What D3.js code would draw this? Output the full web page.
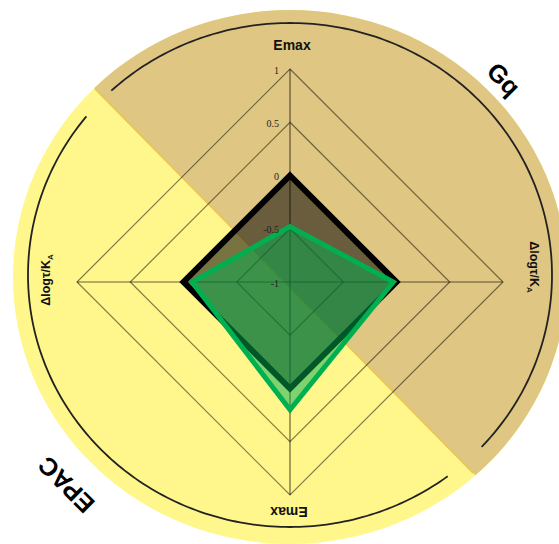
<!DOCTYPE html>
<html>
<head>
<meta charset="utf-8">
<script src="https://cdn.jsdelivr.net/npm/d3@7"></script>
<style>
  body { margin: 0; background: #fff; }
</style>
</head>
<body>
<div id="chart"></div>
<script>
// --- data ---
// axes go clockwise from the top: Gq owns top/right, EPAC owns bottom/left
const axisNames = ["Emax", "Δlogτ/K", "Emax", "Δlogτ/K"];
const axisSubs = ["", "A", "", "A"];
const tickValues = [1, 0.5, 0, -0.5, -1];
const ringValues = [1, 0.5, 0, -0.5];
const blackSeries = [0, 0, 0, 0];
const greenSeries = [-0.48, -0.03, 0.2, -0.08];
const pathways = ["Gq", "EPAC"];

const width = 559, height = 544;

const svg = d3.select("div#chart")
    .append("svg")
    .attr("width", width)
    .attr("height", height)
    .style("background-color", "#fff");

// radar centre and radius (value -1 sits at the centre)
const cx = 290, cy = 282, R = 213;
const rScale = d3.scaleLinear().domain([-1, 1]).range([0, R]);
const angle = i => i * Math.PI / 2;

// background disc (slightly oval in the picture)
const disc = { cx: 290, cy: 277, rx: 277, ry: 267 };

const defs = svg.append("defs");
// upper-right half for Gq, split along the diagonal
defs.append("clipPath").attr("id", "gqHalf")
    .append("polygon")
    .attr("points", [[95 - 400, 89 - 406], [473 + 400, 473 + 406], [1200, -1200]].join(" "));

svg.append("ellipse")
    .attr("cx", disc.cx).attr("cy", disc.cy)
    .attr("rx", disc.rx).attr("ry", disc.ry)
    .attr("fill", "#fff68c");

svg.append("ellipse")
    .attr("clip-path", "url(#gqHalf)")
    .attr("cx", disc.cx).attr("cy", disc.cy)
    .attr("rx", disc.rx).attr("ry", disc.ry)
    .attr("fill", "#dfc682");

// thin golden seam between the halves
svg.append("line")
    .attr("x1", 95).attr("y1", 89)
    .attr("x2", 473).attr("y2", 473)
    .attr("stroke", "#e9c64e")
    .attr("stroke-width", 1.5);

// outer black arcs, one per half
const arcEll = { cx: 290, cy: 275, rx: 262, ry: 252 };
const arcLine = d3.line();
function ellArc(a0, a1) {
    return arcLine(d3.range(a0, a1 + 0.5, 1).map(function (deg) {
        const a = deg * Math.PI / 180;
        return [arcEll.cx + arcEll.rx * Math.sin(a), arcEll.cy - arcEll.ry * Math.cos(a)];
    }));
}
[[-43, 133], [143, 309]].forEach(function (span) {
    svg.append("path")
        .attr("d", ellArc(span[0], span[1]))
        .attr("fill", "none")
        .attr("stroke", "#222")
        .attr("stroke-width", 1.8);
});

const g = svg.append("g").attr("transform", `translate(${cx},${cy})`);

// diamond grid rings
const radial = d3.lineRadial()
    .angle((d, i) => angle(i))
    .curve(d3.curveLinearClosed);

g.selectAll("path.ring")
    .data(ringValues)
    .join("path")
    .attr("class", "ring")
    .attr("d", v => radial.radius(() => rScale(v))(axisNames))
    .attr("fill", "none")
    .attr("stroke", "#000")
    .attr("stroke-opacity", 0.5)
    .attr("stroke-width", 1.2);

// spokes
g.selectAll("line.spoke")
    .data(axisNames)
    .join("line")
    .attr("class", "spoke")
    .attr("x1", 0).attr("y1", 0)
    .attr("x2", (d, i) => R * Math.sin(angle(i)))
    .attr("y2", (d, i) => -R * Math.cos(angle(i)))
    .attr("stroke", "#000")
    .attr("stroke-opacity", 0.6)
    .attr("stroke-width", 1.2);

// series polygons, black first then green on top
const seriesLine = d3.lineRadial()
    .angle((d, i) => angle(i))
    .radius(d => rScale(d))
    .curve(d3.curveLinearClosed);

g.append("path")
    .datum(blackSeries)
    .attr("d", seriesLine)
    .attr("fill", "#000")
    .attr("fill-opacity", 0.53)
    .attr("stroke", "#000")
    .attr("stroke-width", 6)
    .attr("stroke-linejoin", "miter");

g.append("path")
    .datum(greenSeries)
    .attr("d", seriesLine)
    .attr("fill", "#00b050")
    .attr("fill-opacity", 0.5)
    .attr("stroke", "#00b050")
    .attr("stroke-width", 5)
    .attr("stroke-linejoin", "miter");

// tick labels on the top spoke
g.selectAll("text.tick")
    .data(tickValues)
    .join("text")
    .attr("class", "tick")
    .attr("x", -11)
    .attr("y", v => -rScale(v) + 1)
    .attr("text-anchor", "end")
    .attr("dominant-baseline", "central")
    .style("font-family", "Liberation Serif, serif")
    .style("font-size", "10px")
    .style("fill", "#222")
    .text(v => v);

// axis labels: top, right, bottom, left
const labelPos = [[292, 45, 0], [534, 267, 90], [289, 512, 180], [46, 280, -90]];
axisNames.forEach(function (name, i) {
    const p = labelPos[i];
    const t = svg.append("text")
        .attr("transform", `translate(${p[0]},${p[1]}) rotate(${p[2]})`)
        .attr("text-anchor", "middle")
        .attr("dominant-baseline", "central")
        .style("font-family", "Liberation Sans, Arial, sans-serif")
        .style("font-weight", "bold")
        .style("font-size", i % 2 === 0 ? "14px" : "12.5px")
        .style("fill", "#111")
        .text(name);
    if (axisSubs[i]) {
        t.append("tspan")
            .attr("baseline-shift", "sub")
            .style("font-size", "8px")
            .text(axisSubs[i]);
    }
});

// pathway names outside the disc
const pathwayPos = [[504, 79, 45], [66, 485, 225]];
pathways.forEach(function (name, i) {
    const p = pathwayPos[i];
    svg.append("text")
        .attr("transform", `translate(${p[0]},${p[1]}) rotate(${p[2]})`)
        .attr("text-anchor", "middle")
        .attr("dominant-baseline", "central")
        .style("font-family", "Liberation Sans, Arial, sans-serif")
        .style("font-weight", "bold")
        .style("font-size", "25px")
        .style("fill", "#000")
        .text(name);
});
</script>
</body>
</html>
